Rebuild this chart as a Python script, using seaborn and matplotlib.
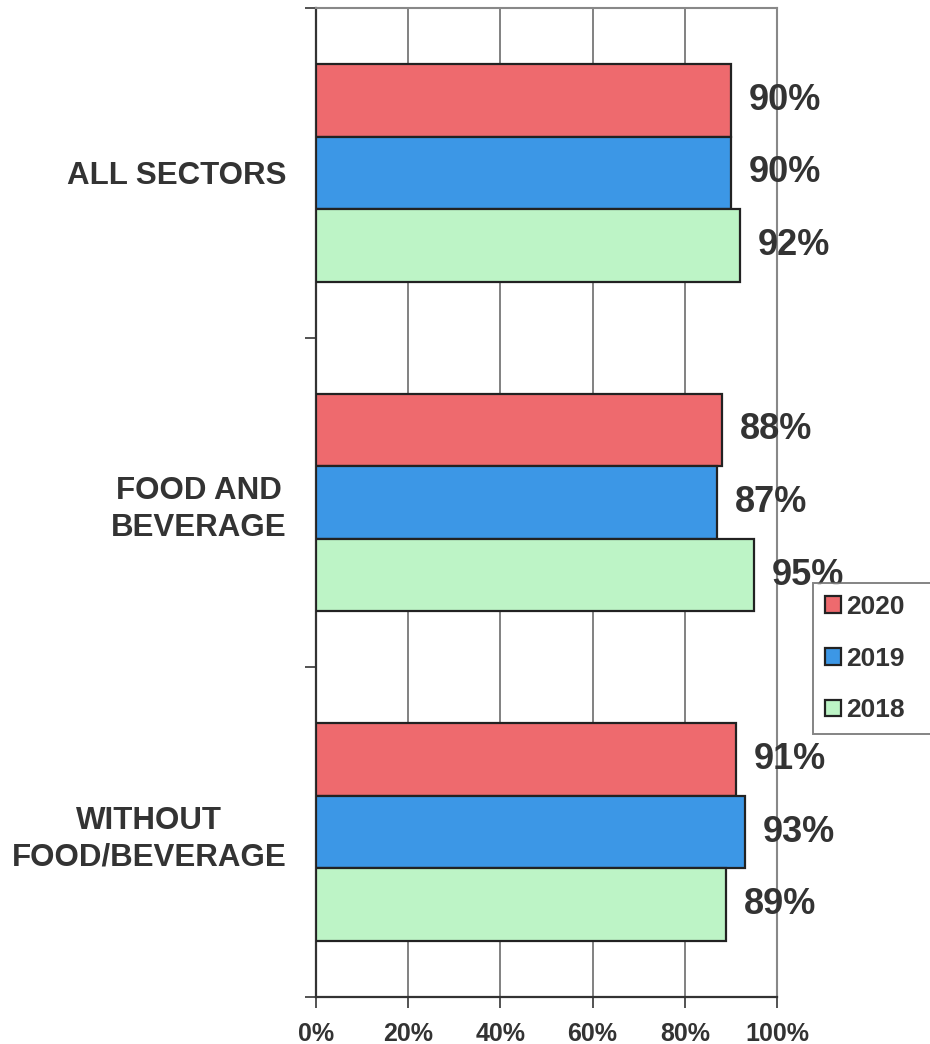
import matplotlib
matplotlib.use("Agg")
import matplotlib.pyplot as plt
import seaborn as sns
import pandas as pd
from matplotlib.ticker import FixedLocator

categories = ["ALL SECTORS", "FOOD AND\nBEVERAGE", "WITHOUT\nFOOD/BEVERAGE"]
years = ["2020", "2019", "2018"]
values_2020 = [90, 88, 91]
values_2019 = [90, 87, 93]
values_2018 = [92, 95, 89]
x_ticks = [0, 20, 40, 60, 80, 100]
x_tick_labels = ["0%", "20%", "40%", "60%", "80%", "100%"]
colors = ["#EE6A6E", "#3C97E6", "#BDF4C6"]

rows = []
for yr, vals in zip(years, [values_2020, values_2019, values_2018]):
    for c, v in zip(categories, vals):
        rows.append({"category": c, "year": yr, "value": v})
df = pd.DataFrame(rows)

sns.set_style("white")
plt.rcParams["font.family"] = ["Liberation Sans", "DejaVu Sans"]
plt.rcParams["font.weight"] = "bold"

fig = plt.figure(figsize=(9.3, 10.44), dpi=100)
ax = fig.add_axes([316 / 930, 1 - 997 / 1044, (777 - 316) / 930, (997 - 8) / 1044])

sns.barplot(data=df, y="category", x="value", hue="year", order=categories,
            hue_order=years, palette=colors, orient="h", width=0.66,
            edgecolor="#222222", linewidth=1.6, ax=ax, zorder=3, saturation=1)

txt = "#333333"
for cont in ax.containers:
    ax.bar_label(cont, fmt="%d%%", padding=13, fontsize=26, fontweight="bold", color=txt)

ax.set_xlim(0, 100)
ax.set_ylim(2.5, -0.5)
ax.set_xticks(x_ticks)
ax.set_xticklabels(x_tick_labels, fontsize=18, fontweight="bold", color=txt)
ax.set_yticks(range(len(categories)))
ax.set_yticklabels(categories, fontsize=22.5, fontweight="bold", color=txt,
                   multialignment="center", linespacing=1.3)
ax.tick_params(axis="y", which="major", length=0, pad=21)
ax.yaxis.set_minor_locator(FixedLocator([-0.5, 0.5, 1.5, 2.5]))
ax.tick_params(axis="y", which="minor", length=8, width=1.3, color="#444444", direction="out", left=True)
ax.tick_params(axis="x", which="major", length=8, width=1.3, color="#444444", direction="out", bottom=True, pad=10)
ax.set_xlabel("")
ax.set_ylabel("")

ax.xaxis.grid(True, color="#777777", linewidth=1.3, zorder=0)
ax.set_axisbelow(True)
for s in ["top", "right"]:
    ax.spines[s].set_color("#888888")
    ax.spines[s].set_linewidth(1.5)
for s in ["left", "bottom"]:
    ax.spines[s].set_color("#333333")
    ax.spines[s].set_linewidth(1.6)

leg = ax.legend(loc="upper left",
                bbox_to_anchor=(813 / 930, 1 - 583 / 1044, 150 / 930, 0),
                bbox_transform=fig.transFigure, mode="expand", frameon=True, fancybox=False,
                borderaxespad=0, prop={"size": 19, "weight": "bold"},
                handlelength=0.6, handleheight=0.6, handletextpad=0.2,
                labelspacing=1.05, borderpad=0.45, labelcolor=txt)
leg.get_frame().set_edgecolor("#666666")
leg.get_frame().set_linewidth(1.4)
leg.set_zorder(5)

fig.savefig("out.png", dpi=100)
